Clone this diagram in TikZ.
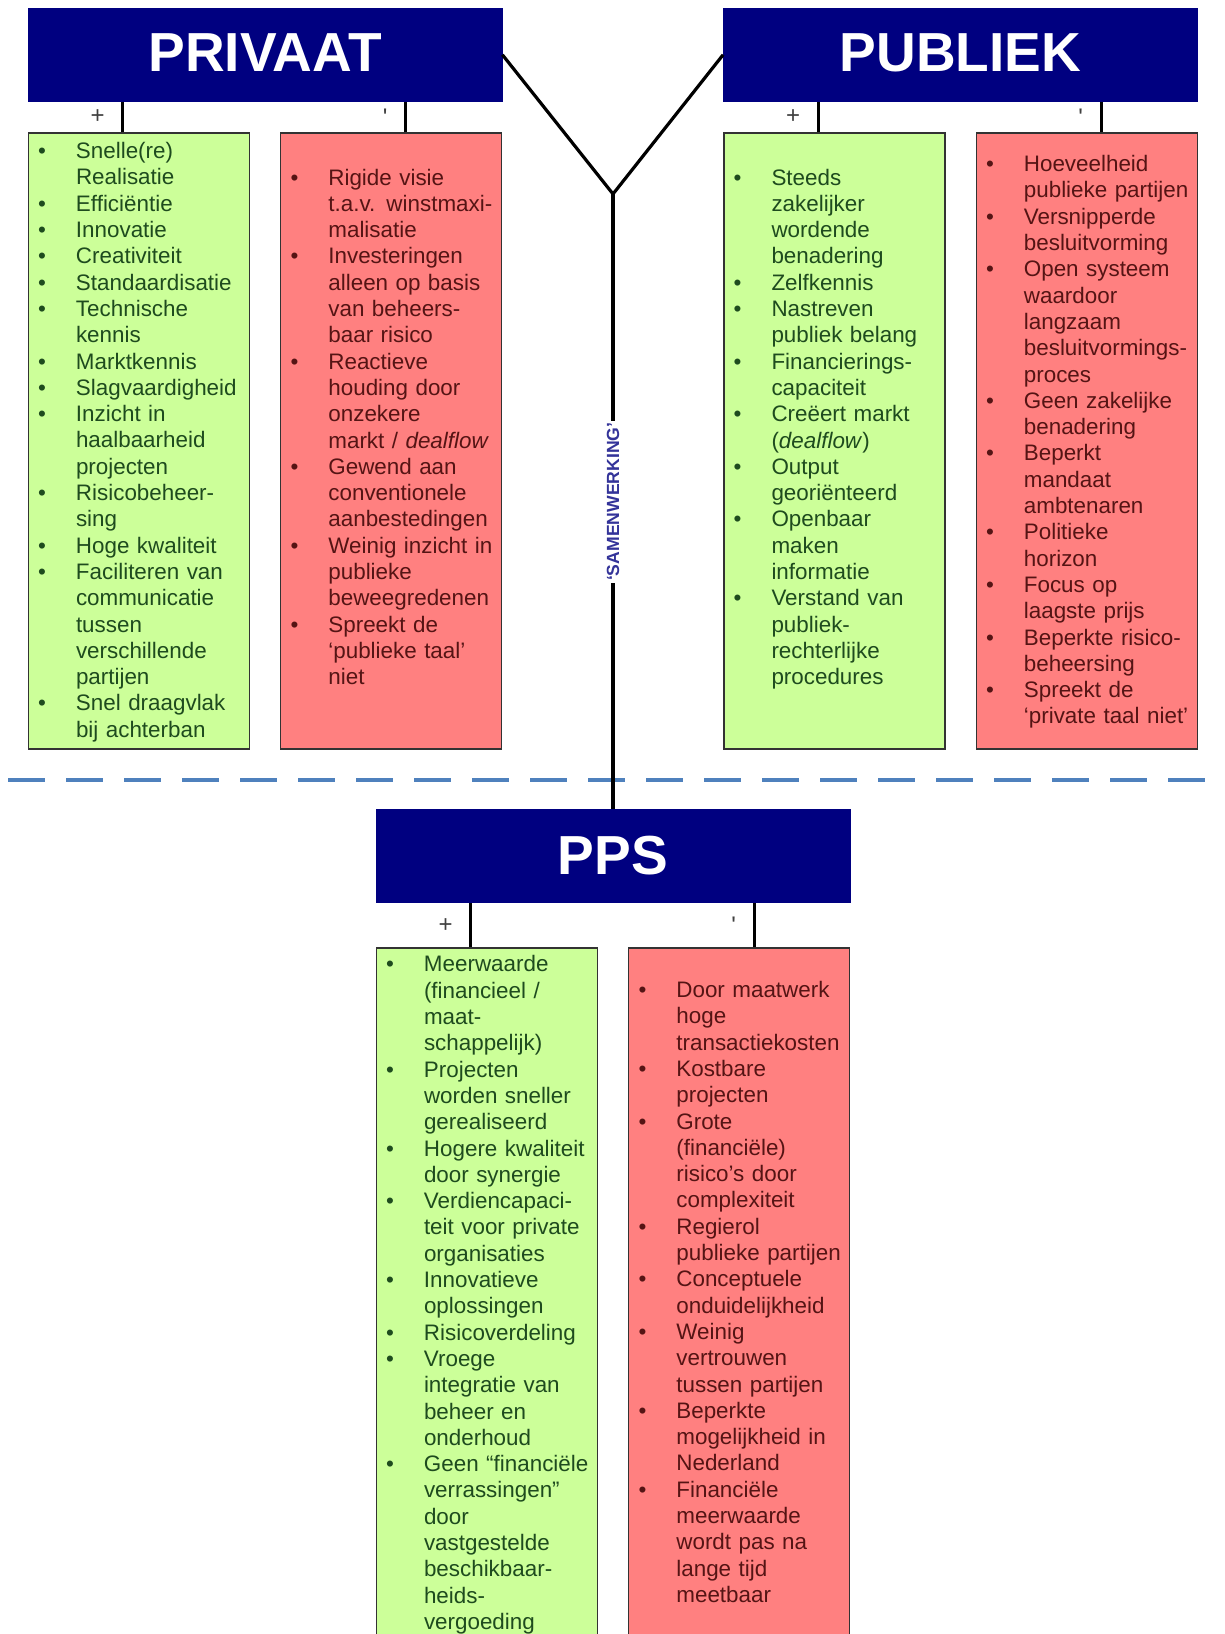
\documentclass[tikz,border=0pt]{standalone}
\usepackage{fontspec}
\setmainfont{Liberation Sans}
\usetikzlibrary{positioning}
\usepackage{xcolor}

\definecolor{kopblauw}{RGB}{0,0,128}
\definecolor{plusgroen}{RGB}{204,255,153}
\definecolor{minrood}{RGB}{255,128,128}
\definecolor{plustekst}{RGB}{30,75,30}
\definecolor{mintekst}{RGB}{85,20,20}
\definecolor{samenblauw}{RGB}{51,51,153}
\definecolor{grensblauw}{RGB}{79,129,189}

% one bullet item, bullet hung in the left margin
\newcommand{\itm}[1]{\par\noindent\strut\llap{\textbullet\hspace{15pt}}#1}

\tikzset{
  kop/.style={draw=kopblauw, fill=kopblauw, text=white, inner sep=0pt,
    minimum width=237pt, minimum height=46.5pt,
    font=\fontsize{27.5}{30}\selectfont\bfseries},
  lijst/.style={draw=black!80, line width=0.7pt, inner sep=0pt,
    minimum width=110.5pt, minimum height=308pt},
  plusbox/.style={lijst, fill=plusgroen},
  minbox/.style={lijst, fill=minrood},
  tekst/.style={text width=92pt, inner sep=0pt, align=left,
    font=\fontsize{11.2}{13.15}\selectfont},
  verbind/.style={line width=1.6pt},
  teken/.style={font=\fontsize{12}{14}\selectfont, text=black!75},
  samen/.style={rotate=90, fill=white, inner sep=1pt, text=samenblauw,
    font=\fontsize{8.8}{10}\selectfont\bfseries},
  grens/.style={grensblauw, line width=2pt, dash pattern=on 18.5pt off 10.5pt}
}

\begin{document}
\begin{tikzpicture}[x=0.5pt, y=-0.5pt]
  \useasboundingbox (0,0) rectangle (1225,1634);

  % headers
  \node[kop] (privaat) at (265,54.75) {\raisebox{2pt}{PRIVAAT}};
  \node[kop] (publiek) at (960.5,54.75) {\raisebox{2pt}{PUBLIEK}};
  \node[kop] (pps) at (613,856.3) {\raisebox{1pt}{PPS}};

  % boxes under the headers
  \node[plusbox, below right=15.35pt and 0pt of privaat.south west] (privplus) {};
  \node[minbox, below left=15.35pt and 0pt of privaat.south east] (privmin) {};
  \node[plusbox, below right=15.35pt and 0pt of publiek.south west] (pubplus) {};
  \node[minbox, below left=15.35pt and 0pt of publiek.south east] (pubmin) {};
  \node[plusbox, minimum height=352pt, below right=22pt and 0pt of pps.south west] (ppsplus) {};
  \node[minbox, minimum height=352pt, below left=22pt and 0pt of pps.south east] (ppsmin) {};

  % lists
  \node[tekst, text=plustekst, below right=-0.2pt and 24pt of privplus.north west] (privplus-txt) {%
    \itm{Snelle(re)\\Realisatie}
    \itm{Efficiëntie}
    \itm{Innovatie}
    \itm{Creativiteit}
    \itm{Standaardisatie}
    \itm{Technische\\kennis}
    \itm{Marktkennis}
    \itm{Slagvaardigheid}
    \itm{Inzicht in\\haalbaarheid\\projecten}
    \itm{Risicobeheer-\\sing}
    \itm{Hoge kwaliteit}
    \itm{Faciliteren van\\communicatie\\tussen\\verschillende\\partijen}
    \itm{Snel draagvlak\\bij achterban}};
  \node[tekst, text=mintekst, below right=13pt and 24pt of privmin.north west] (privmin-txt) {%
    \itm{Rigide visie\\t.a.v. winstmaxi-\\malisatie}
    \itm{Investeringen\\alleen op basis\\van beheers-\\baar risico}
    \itm{Reactieve\\houding door\\onzekere\\markt / \textit{dealflow}}
    \itm{Gewend aan\\conventionele\\aanbestedingen}
    \itm{Weinig inzicht in\\publieke\\beweegredenen}
    \itm{Spreekt de\\‘publieke taal’\\niet}};
  \node[tekst, text=plustekst, below right=13pt and 24pt of pubplus.north west] (pubplus-txt) {%
    \itm{Steeds\\zakelijker\\wordende\\benadering}
    \itm{Zelfkennis}
    \itm{Nastreven\\publiek belang}
    \itm{Financierings-\\capaciteit}
    \itm{Creëert markt\\(\textit{dealflow})}
    \itm{Output\\georiënteerd}
    \itm{Openbaar\\maken\\informatie}
    \itm{Verstand van\\publiek-\\rechterlijke\\procedures}};
  \node[tekst, text=mintekst, below right=6.3pt and 24pt of pubmin.north west] (pubmin-txt) {%
    \itm{Hoeveelheid\\publieke partijen}
    \itm{Versnipperde\\besluitvorming}
    \itm{Open systeem\\waardoor\\langzaam\\besluitvormings-\\proces}
    \itm{Geen zakelijke\\benadering}
    \itm{Beperkt\\mandaat\\ambtenaren}
    \itm{Politieke\\horizon}
    \itm{Focus op\\laagste prijs}
    \itm{Beperkte risico-\\beheersing}
    \itm{Spreekt de\\‘private taal niet’}};
  \node[tekst, text=plustekst, below right=-1pt and 24pt of ppsplus.north west] (ppsplus-txt) {%
    \itm{Meerwaarde\\(financieel /\\maat-\\schappelijk)}
    \itm{Projecten\\worden sneller\\gerealiseerd}
    \itm{Hogere kwaliteit\\door synergie}
    \itm{Verdiencapaci-\\teit voor private\\organisaties}
    \itm{Innovatieve\\oplossingen}
    \itm{Risicoverdeling}
    \itm{Vroege\\integratie van\\beheer en\\onderhoud}
    \itm{Geen “financiële\\verrassingen”\\door\\vastgestelde\\beschikbaar-\\heids-\\vergoeding}};
  \node[tekst, text=mintekst, below right=11.8pt and 24pt of ppsmin.north west] (ppsmin-txt) {%
    \itm{Door maatwerk\\hoge\\transactiekosten}
    \itm{Kostbare\\projecten}
    \itm{Grote\\(financiële)\\risico’s door\\complexiteit}
    \itm{Regierol\\publieke partijen}
    \itm{Conceptuele\\onduidelijkheid}
    \itm{Weinig\\vertrouwen\\tussen partijen}
    \itm{Beperkte\\mogelijkheid in\\Nederland}
    \itm{Financiële\\meerwaarde\\wordt pas na\\lange tijd\\meetbaar}};

  % header to box links
  \coordinate[xshift=-8pt] (c1) at (privplus.north);
  \coordinate[xshift=7.25pt] (c2) at (privmin.north);
  \coordinate[xshift=-8pt] (c3) at (pubplus.north);
  \coordinate[xshift=7.25pt] (c4) at (pubmin.north);
  \coordinate[xshift=-8pt] (c5) at (ppsplus.north);
  \coordinate[xshift=7.5pt] (c6) at (ppsmin.north);
  \draw[verbind] (c1) -- (c1 |- privaat.south) node[midway, teken, left=5pt] {+};
  \draw[verbind] (c2) -- (c2 |- privaat.south) node[midway, teken, left=5pt] {\textquotesingle};
  \draw[verbind] (c3) -- (c3 |- publiek.south) node[midway, teken, left=5pt] {+};
  \draw[verbind] (c4) -- (c4 |- publiek.south) node[midway, teken, left=5pt] {\textquotesingle};
  \draw[verbind] (c5) -- (c5 |- pps.south) node[midway, teken, left=5pt] {+};
  \draw[verbind] (c6) -- (c6 |- pps.south) node[midway, teken, left=5pt] {\textquotesingle};

  % dividing line
  \draw[grens] (8,780) -- (1225,780);

  % the Y
  \coordinate (knoop) at (613,194);
  \draw[verbind] (privaat.east) -- (knoop) -- (publiek.west);
  \draw[verbind] (knoop) -- (pps.north) node[midway, samen] (samenwerking) {‘SAMENWERKING’};
\end{tikzpicture}
\end{document}
